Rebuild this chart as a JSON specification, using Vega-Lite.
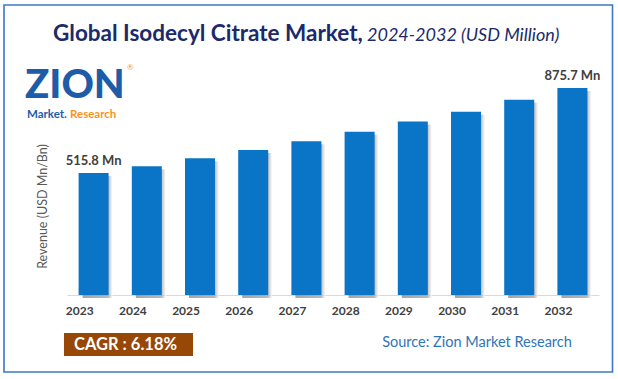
{
  "$schema": "https://vega.github.io/schema/vega-lite/v6.json",
  "width": 532,
  "height": 207,
  "autosize": {"type": "none"},
  "padding": {"left": 67, "top": 88, "right": 19, "bottom": 84},
  "background": "#ffffff",
  "config": {"view": {"stroke": null}, "font": "Lato"},
  "data": {
    "values": [
      {"year": "2023", "value": 515.8},
      {"year": "2024", "value": 545.0},
      {"year": "2025", "value": 578.4},
      {"year": "2026", "value": 613.0},
      {"year": "2027", "value": 650.5},
      {"year": "2028", "value": 690.9},
      {"year": "2029", "value": 733.9},
      {"year": "2030", "value": 775.6},
      {"year": "2031", "value": 825.6},
      {"year": "2032", "value": 875.7}
    ]
  },
  "layer": [
    {
      "data": {"values": [{"k": "frame"}]},
      "mark": {"type": "rect", "x": -63, "x2": 545.5, "y": -83, "y2": 284, "fill": "#ffffff", "fillOpacity": 0, "stroke": "#3c78c3", "strokeWidth": 1.6},
      "encoding": {}
    },
    {
      "data": {"values": [{"k": "dash"}]},
      "mark": {"type": "rule", "x": -24, "x2": 505, "y": -27, "y2": -27, "stroke": "#8eaadd", "strokeWidth": 1.3, "strokeDash": [4, 3]},
      "encoding": {}
    },
    {
      "data": {"values": [{"t": "Global Isodecyl Citrate Market,"}]},
      "mark": {"type": "text", "x": -14, "y": -47, "align": "left", "baseline": "alphabetic", "fontSize": 22.5, "fontWeight": "bold", "color": "#1c2a6b"},
      "encoding": {"text": {"field": "t"}}
    },
    {
      "data": {"values": [{"t": "2024-2032 (USD Million)"}]},
      "mark": {"type": "text", "x": 300, "y": -47, "align": "left", "baseline": "alphabetic", "fontSize": 18, "fontStyle": "italic", "color": "#1c2a6b"},
      "encoding": {"text": {"field": "t"}}
    },
    {
      "data": {"values": [{"t": "ZION"}]},
      "mark": {"type": "text", "x": -42, "y": 10, "align": "left", "baseline": "alphabetic", "fontSize": 40, "fontWeight": 900, "color": "#1d5ca8"},
      "encoding": {"text": {"field": "t"}}
    },
    {
      "data": {"values": [{"t": "®"}]},
      "mark": {"type": "text", "x": 60, "y": -18, "align": "left", "baseline": "alphabetic", "fontSize": 8, "color": "#f7941d"},
      "encoding": {"text": {"field": "t"}}
    },
    {
      "data": {"values": [{"t": "Market."}]},
      "mark": {"type": "text", "x": -40, "y": 30, "align": "left", "baseline": "alphabetic", "fontSize": 11.5, "fontWeight": "bold", "color": "#1d5ca8"},
      "encoding": {"text": {"field": "t"}}
    },
    {
      "data": {"values": [{"t": "Research"}]},
      "mark": {"type": "text", "x": 3, "y": 30, "align": "left", "baseline": "alphabetic", "fontSize": 11.5, "fontWeight": "bold", "color": "#f7941d"},
      "encoding": {"text": {"field": "t"}}
    },
    {
      "mark": {"type": "bar", "xOffset": 4, "yOffset": 3, "fill": {"gradient": "linear", "x1": 0, "x2": 1, "y1": 0, "y2": 0, "stops": [{"offset": 0, "color": "#7f7f7f"}, {"offset": 0.85, "color": "#9a9a9a"}, {"offset": 1, "color": "#ffffff"}]}, "opacity": 0.7},
      "encoding": {
        "x": {"field": "year", "type": "nominal"},
        "y": {"field": "value", "type": "quantitative"}
      }
    },
    {
      "mark": {"type": "bar", "color": "#0a75c6"},
      "encoding": {
        "x": {
          "field": "year",
          "type": "nominal",
          "scale": {"paddingInner": 0.436, "paddingOuter": 0.218},
          "axis": {"title": null, "labelAngle": 0, "ticks": false, "domainColor": "#d9d9d9", "domainWidth": 1, "labelPadding": 15, "labelFontSize": 12, "labelFontWeight": "bold", "labelColor": "#404040", "labelFont": "Lato"}
        },
        "y": {
          "field": "value",
          "type": "quantitative",
          "scale": {"domain": [0, 875.7], "nice": false},
          "axis": {"title": "Revenue (USD Mn/Bn)", "labels": false, "ticks": false, "domain": false, "grid": false, "titleX": -25, "titleY": 118, "titleAlign": "center", "titleBaseline": "middle", "titleFontSize": 12.5, "titleFontWeight": "normal", "titleColor": "#595959", "titleFont": "Lato"}
        }
      }
    },
    {
      "transform": [
        {"filter": "datum.year == '2023' || datum.year == '2032'"},
        {"calculate": "format(datum.value, '.1f') + ' Mn'", "as": "label"}
      ],
      "mark": {"type": "text", "baseline": "alphabetic", "dy": -8, "fontSize": 13, "fontWeight": "bold", "color": "#404040"},
      "encoding": {
        "x": {"field": "year", "type": "nominal"},
        "y": {"field": "value", "type": "quantitative"},
        "text": {"field": "label"}
      }
    },
    {
      "data": {"values": [{"k": "cagr"}]},
      "mark": {"type": "rect", "x": -3, "x2": 126, "y": 245, "y2": 268, "fill": "#974706"},
      "encoding": {}
    },
    {
      "data": {"values": [{"t": "CAGR :  6.18%"}]},
      "mark": {"type": "text", "x": 58.5, "y": 257, "align": "center", "baseline": "middle", "fontSize": 16.5, "fontWeight": "bold", "color": "#ffffff"},
      "encoding": {"text": {"field": "t"}}
    },
    {
      "data": {"values": [{"t": "Source: Zion Market Research"}]},
      "mark": {"type": "text", "x": 410, "y": 255, "align": "center", "baseline": "middle", "fontSize": 14.5, "color": "#2e75b6"},
      "encoding": {"text": {"field": "t"}}
    }
  ]
}
